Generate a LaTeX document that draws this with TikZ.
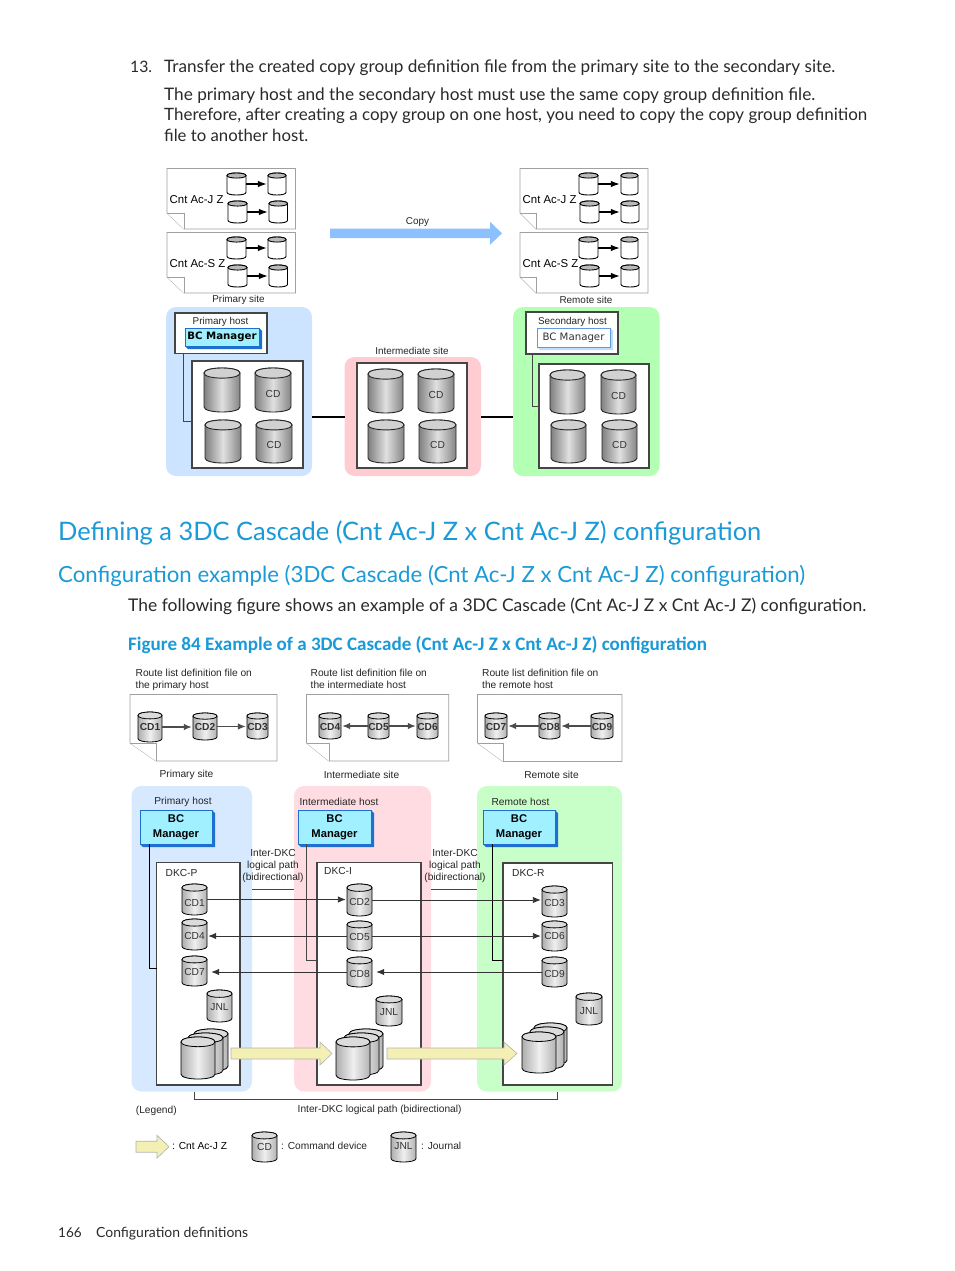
\documentclass[tikz,border=0pt]{standalone}
\usepackage{fontspec}
\setmainfont{Lato}
\newfontfamily\lab{Liberation Sans}
\newfontfamily\dvb{DejaVu Sans}
\newfontfamily\figf{Carlito}
\usetikzlibrary{arrows.meta,calc}
\definecolor{heading}{HTML}{1A9AD6}
\definecolor{bodytx}{HTML}{2A2A2A}
\definecolor{pblueA}{HTML}{CCE4FF}
\definecolor{ppinkA}{HTML}{FFCCD2}
\definecolor{pgreenA}{HTML}{B3FFB3}
\definecolor{pblueB}{HTML}{D6E9FF}
\definecolor{ppinkB}{HTML}{FFDCE2}
\definecolor{pgreenB}{HTML}{C8FFC8}
\definecolor{cyan}{HTML}{A0F0FF}
\definecolor{shadowblue}{HTML}{1E6FD0}
\definecolor{lightshadow}{HTML}{BFDDFF}
\definecolor{boxline}{HTML}{454545}
\definecolor{docline}{HTML}{A0A0A0}
\definecolor{yellowar}{HTML}{F4F0B4}
\definecolor{copyblue}{HTML}{8CC0FF}
\tikzset{
  mini body/.style={draw=black,line width=.9pt,fill=white},
  mini cap/.style={draw=black,line width=.9pt,fill=gray!55},
  big body/.style={draw=black!85,line width=.9pt,left color=black!50,right color=black!48,middle color=black!12},
  big cap/.style={draw=black!85,line width=.9pt,fill=black!18},
  soft body/.style={draw=black,line width=.8pt,left color=black!32,right color=black!30,middle color=black!6},
  soft cap/.style={draw=black,line width=.8pt,fill=black!14},
  panelbox/.style={rounded corners=10pt,draw=none},
  whitebox/.style={draw=boxline,line width=1.1pt,fill=white},
  docpage/.style={draw=docline,line width=.8pt,fill=white},
  lbl/.style={inner sep=0pt,align=center,text=black!85,yshift=-1pt,font=\lab\fontsize{10.2}{12.4}\selectfont},
  lblsm/.style={lbl,font=\lab\fontsize{9.9}{12}\selectfont},
  cnt/.style={lbl,text=black,font=\lab\fontsize{11.4}{13}\selectfont},
  link/.style={draw=black,line width=1pt},
  flow/.style={draw=black!80,line width=.9pt,-{Latex[length=8pt,width=6.5pt]},shorten >=1pt},
  miniflow/.style={draw=black,line width=1.1pt,-{Latex[length=9pt,width=6.5pt]},shorten >=1pt},
  routeflow/.style={draw=black!70,line width=1.2pt,-{Latex[length=8pt,width=6.5pt]},shorten >=1pt},
  yarrow/.style={draw=black!30,line width=.6pt,fill=yellowar},
  page/.style={inner sep=0pt,anchor=base west,text=bodytx},
  head/.style={inner sep=0pt,anchor=base west,text=heading},
}
% cylinder: style, name, x1, y1, x2, y2, label, label offset
\newcommand{\cyl}[8]{%
  \pgfmathsetmacro{\ry}{0.115*(#6-#4)}%
  \pgfmathsetmacro{\yt}{#4+\ry}%
  \pgfmathsetmacro{\yb}{#6-\ry}%
  \pgfmathsetmacro{\kp}{1.3333*\ry}%
  \pgfmathsetmacro{\tc}{\yt-\kp}%
  \pgfmathsetmacro{\td}{\yt+\kp}%
  \pgfmathsetmacro{\bd}{\yb+\kp}%
  \path[#1 body] (#3,\yt) -- (#3,\yb) .. controls (#3,\bd) and (#5,\bd) .. (#5,\yb) -- (#5,\yt) .. controls (#5,\tc) and (#3,\tc) .. cycle;
  \path[#1 cap] (#3,\yt) .. controls (#3,\td) and (#5,\td) .. (#5,\yt) .. controls (#5,\tc) and (#3,\tc) .. cycle;
  \pgfmathsetmacro{\cx}{(#3+#5)/2}%
  \pgfmathsetmacro{\cy}{(#4+#6)/2}%
  \pgfmathsetmacro{\cz}{\cy+#8-1}%
  \pgfmathsetmacro{\cw}{#5-#3}%
  \pgfmathsetmacro{\ch}{#6-#4}%
  \node[inner sep=0pt,minimum width=\cw pt,minimum height=\ch pt] (#2) at (\cx,\cy) {};
  \node[lbl,text=black!80] (#2t) at (\cx,\cz) {#7};
}
% rectangle node: style, name, x1, y1, x2, y2, label
\newcommand{\boxn}[7]{%
  \pgfmathsetmacro{\cx}{(#3+#5)/2}%
  \pgfmathsetmacro{\cy}{(#4+#6)/2}%
  \pgfmathsetmacro{\cw}{#5-#3}%
  \pgfmathsetmacro{\ch}{#6-#4}%
  \node[#1,inner sep=0pt,outer sep=0pt,minimum width=\cw pt,minimum height=\ch pt,align=center] (#2) at (\cx,\cy) {#7};
}
% dog-eared page: x1,y1,x2,y2,xf,yf
\newcommand{\dogear}[6]{%
  \path[docpage] (#1,#2) -- (#3,#2) -- (#3,#4) -- (#5,#4) -- (#1,#6) -- cycle;
  \path[docpage] (#1,#6) -- (#5,#6) -- (#5,#4);
}
% block arrow: style, x1, xhead, xtip, yc, half shaft, half head
\newcommand{\blockarrow}[7]{%
  \pgfmathsetmacro{\sa}{#5-#6}\pgfmathsetmacro{\sb}{#5+#6}%
  \pgfmathsetmacro{\ha}{#5-#7}\pgfmathsetmacro{\hb}{#5+#7}%
  \path[#1] (#2,\sa) -- (#3,\sa) -- (#3,\ha) -- (#4,#5) -- (#3,\hb) -- (#3,\sb) -- (#2,\sb) -- cycle;
}
% extruded BC Manager box
\newcommand{\bcbox}[8]{%
  \pgfmathsetmacro{\sxb}{#5+3}\pgfmathsetmacro{\syb}{#6+3}%
  \pgfmathsetmacro{\sxa}{#3+3}\pgfmathsetmacro{\sya}{#4+3}%
  \fill[#8] (#3,#6) -- (\sxa,\syb) -- (\sxb,\syb) -- (\sxb,\sya) -- (#5,#4) -- cycle;
  \boxn{#1}{#2}{#3}{#4}{#5}{#6}{#7}
}
\begin{document}
\begin{tikzpicture}[x=1pt,y=-1pt]
\useasboundingbox (0,0) rectangle (954,1271);
\fill[white] (0,0) rectangle (954,1271);

% ---- page text
\node[page] (n13) at (130,72.5) {\resizebox{22pt}{!}{\fontsize{19}{23}\selectfont 13.}};
\node[page] (t1) at (164,72.5) {\resizebox{671pt}{!}{\fontsize{19}{23}\selectfont Transfer the created copy group definition file from the primary site to the secondary site.}};
\node[page] (t2) at (164,100) {\resizebox{651pt}{!}{\fontsize{19}{23}\selectfont The primary host and the secondary host must use the same copy group definition file.}};
\node[page] (t3) at (164,120.5) {\resizebox{703pt}{!}{\fontsize{19}{23}\selectfont Therefore, after creating a copy group on one host, you need to copy the copy group definition}};
\node[page] (t4) at (164,141) {\resizebox{144pt}{!}{\fontsize{19}{23}\selectfont file to another host.}};

\node[head] (h1) at (58,540) {\resizebox{703pt}{!}{\fontsize{27}{32}\selectfont Defining a 3DC Cascade (Cnt Ac-J Z x Cnt Ac-J Z) configuration}};
\node[head] (h2) at (58,582) {\resizebox{747pt}{!}{\fontsize{24}{29}\selectfont Configuration example (3DC Cascade (Cnt Ac-J Z x Cnt Ac-J Z) configuration)}};
\node[page] (t5) at (128,611) {\resizebox{738pt}{!}{\fontsize{19}{23}\selectfont The following figure shows an example of a 3DC Cascade (Cnt Ac-J Z x Cnt Ac-J Z) configuration.}};
\node[head] (h3) at (128,650.5) {\resizebox{579pt}{!}{\figf\bfseries\fontsize{20}{24}\selectfont Figure 84 Example of a 3DC Cascade (Cnt Ac-J Z x Cnt Ac-J Z) configuration}};
\node[page] (foot1) at (58,1237.5) {\resizebox{23.5pt}{!}{\fontsize{16}{20}\selectfont 166}};
\node[page] (foot2) at (96,1237.5) {\resizebox{152pt}{!}{\fontsize{16}{20}\selectfont Configuration definitions}};

% ---- first diagram: definition files
\dogear{167}{168.5}{295.5}{229}{184}{213}
\dogear{167}{232.5}{295.5}{293}{184}{277}
\node[cnt,anchor=west] (la) at (169.5,198.5) {Cnt Ac-J Z};
\node[cnt,anchor=west] (lb) at (169.5,262.5) {Cnt Ac-S Z};
\cyl{mini}{a1}{227}{173}{246}{195}{}{0}
\cyl{mini}{a2}{268}{173}{286}{195}{}{0}
\cyl{mini}{a3}{228}{201}{247}{223}{}{0}
\cyl{mini}{a4}{269}{201}{287.5}{223}{}{0}
\cyl{mini}{a5}{227}{237}{246}{259}{}{0}
\cyl{mini}{a6}{268}{237}{286}{259}{}{0}
\cyl{mini}{a7}{228}{265}{247}{287}{}{0}
\cyl{mini}{a8}{269}{265}{287.5}{287}{}{0}
\draw[miniflow] (a1.east) -- (a2.west);
\draw[miniflow] (a3.east) -- (a4.west);
\draw[miniflow] (a5.east) -- (a6.west);
\draw[miniflow] (a7.east) -- (a8.west);

\dogear{520}{168.5}{648}{229}{536}{213}
\dogear{520}{232.5}{648}{293}{536}{277}
\node[cnt,anchor=west] (lc) at (522.5,198.5) {Cnt Ac-J Z};
\node[cnt,anchor=west] (ld) at (522.5,262.5) {Cnt Ac-S Z};
\cyl{mini}{b1}{579}{173}{598}{195}{}{0}
\cyl{mini}{b2}{621}{173}{638}{195}{}{0}
\cyl{mini}{b3}{580}{201}{599}{223}{}{0}
\cyl{mini}{b4}{621}{201}{639}{223}{}{0}
\cyl{mini}{b5}{579}{237}{598}{259}{}{0}
\cyl{mini}{b6}{621}{237}{638}{259}{}{0}
\cyl{mini}{b7}{580}{265}{599}{287}{}{0}
\cyl{mini}{b8}{621}{265}{639}{287}{}{0}
\draw[miniflow] (b1.east) -- (b2.west);
\draw[miniflow] (b3.east) -- (b4.west);
\draw[miniflow] (b5.east) -- (b6.west);
\draw[miniflow] (b7.east) -- (b8.west);

\node[lblsm] (lcopy) at (417.5,221.5) {Copy};
\blockarrow{fill=copyblue}{330}{490}{502}{233.3}{4.8}{11.5}

\node[lblsm] (ls1) at (238.5,299) {Primary site};
\node[lblsm] (ls2) at (586,299) {Remote site};
\node[lblsm] (ls3) at (412,349.5) {Intermediate site};

% ---- first diagram: sites
\boxn{panelbox,fill=pblueA}{pa}{166}{307}{312}{476}{}
\boxn{panelbox,fill=ppinkA}{pb}{344.5}{357}{481}{476}{}
\boxn{panelbox,fill=pgreenA}{pc}{513}{307}{659.5}{476}{}
\coordinate (lineY) at (0,417);
\draw[link,line width=1.6pt] (pa.east |- lineY) -- (pb.west |- lineY);
\draw[link,line width=1.6pt] (pb.east |- lineY) -- (pc.west |- lineY);

\boxn{whitebox}{ha}{175}{313}{267}{353.5}{}
\boxn{whitebox}{hc}{526}{312}{618}{354}{}
\boxn{whitebox}{sa}{192}{361}{303}{468}{}
\boxn{whitebox}{sb}{357}{363}{467}{468}{}
\boxn{whitebox}{sc}{539}{364}{649}{468}{}
\coordinate (ka) at (183,421);
\coordinate (kc) at (532,406);
\draw[link,draw=boxline] (ha.south -| ka) |- (sa.west |- ka);
\draw[link,draw=boxline] (hc.south -| kc) |- (sc.west |- kc);
\node[lblsm] (lhp) at (220.5,320.5) {Primary host};
\node[lblsm] (lhs) at (572.5,320.5) {Secondary host};
\bcbox{draw=shadowblue,line width=.8pt,fill=cyan,font=\dvb\bfseries\fontsize{10.2}{12}\selectfont}{bca}{185}{328}{259}{346}{BC Manager}{shadowblue}
\bcbox{draw=shadowblue!70,line width=.8pt,fill=white,text=black!80,font=\dvb\fontsize{10.2}{12}\selectfont}{bcc}{537}{328}{610}{347}{BC Manager}{lightshadow}

\cyl{big}{c1}{204}{368}{240}{412}{}{0}
\cyl{big}{c2}{255}{368}{291}{412}{CD}{3.5}
\cyl{big}{c3}{205}{420}{241}{463}{}{0}
\cyl{big}{c4}{256}{420}{292}{463}{CD}{3}
\cyl{big}{c5}{368}{369}{403}{413}{}{0}
\cyl{big}{c6}{418}{369}{454}{413}{CD}{3.5}
\cyl{big}{c7}{368}{420}{404}{463}{}{0}
\cyl{big}{c8}{419}{420}{456}{463}{CD}{3}
\cyl{big}{c9}{550}{370}{585}{414}{}{0}
\cyl{big}{c10}{601}{370}{636}{414}{CD}{3.5}
\cyl{big}{c11}{551}{420}{586}{463}{}{0}
\cyl{big}{c12}{602}{420}{637}{463}{CD}{3}

% ---- second diagram: route lists
\node[lbl,anchor=north west] (r1) at (135.5,667.5) {\parbox{130pt}{\raggedright Route list definition file on\\the primary host}};
\node[lbl,anchor=north west] (r2) at (310.5,667.5) {\parbox{130pt}{\raggedright Route list definition file on\\the intermediate host}};
\node[lbl,anchor=north west] (r3) at (482,667.5) {\parbox{130pt}{\raggedright Route list definition file on\\the remote host}};
\dogear{130}{694.5}{277}{761}{156}{743}
\dogear{306.5}{694.5}{448.7}{761}{329}{743}
\dogear{477.5}{694.5}{622}{761.5}{503}{743}
\newcommand{\cdb}[1]{\lab\bfseries\fontsize{10.2}{12}\selectfont #1}
\cyl{soft}{d1}{138}{712}{162}{742}{\cdb{CD1}}{0}
\cyl{soft}{d2}{193}{713}{217}{740}{\cdb{CD2}}{0}
\cyl{soft}{d3}{247}{713}{268}{739}{\cdb{CD3}}{1}
\cyl{soft}{d4}{319}{713}{341}{739}{\cdb{CD4}}{1}
\cyl{soft}{d5}{368}{713}{389}{739}{\cdb{CD5}}{1}
\cyl{soft}{d6}{417}{713}{438}{739}{\cdb{CD6}}{1}
\cyl{soft}{d7}{485}{713}{507}{739}{\cdb{CD7}}{1}
\cyl{soft}{d8}{539}{713}{560}{739}{\cdb{CD8}}{1}
\cyl{soft}{d9}{591}{713}{613}{739}{\cdb{CD9}}{1}
\draw[routeflow] (d1.east) -- (d1.east -| d2.west);
\draw[routeflow] (d2.east) -- (d2.east -| d3.west);
\draw[routeflow] (d5.west) -- (d5.west -| d4.east);
\draw[routeflow] (d5.east) -- (d5.east -| d6.west);
\draw[routeflow] (d8.west) -- (d8.west -| d7.east);
\draw[routeflow] (d9.west) -- (d9.west -| d8.east);
\node[lbl] (s1) at (186.5,774) {Primary site};
\node[lbl] (s2) at (361.5,774) {Intermediate site};
\node[lbl] (s3) at (551.5,774) {Remote site};

% ---- second diagram: sites
\boxn{panelbox,fill=pblueB}{qa}{131.5}{786}{252}{1091.5}{}
\boxn{panelbox,fill=ppinkB}{qb}{294}{786}{431}{1091.5}{}
\boxn{panelbox,fill=pgreenB}{qc}{477}{786}{622}{1091.5}{}
\boxn{whitebox}{ka1}{156.5}{862.5}{240}{1085}{}
\boxn{whitebox}{ka2}{317}{862.5}{421}{1085}{}
\boxn{whitebox}{ka3}{503}{863}{612.5}{1085}{}
\node[lbl,anchor=west] (k1) at (165.5,871.5) {DKC-P};
\node[lbl,anchor=west] (k2) at (324,869.5) {DKC-I};
\node[lbl,anchor=west] (k3) at (512,871.5) {DKC-R};
\node[lbl] (g1) at (183,800.5) {Primary host};
\node[lbl] (g2) at (339,800.5) {Intermediate host};
\node[lbl] (g3) at (520.5,800.5) {Remote host};

\bcbox{draw=shadowblue,line width=.8pt,fill=cyan,font=\lab\bfseries\fontsize{11.2}{15}\selectfont}{q1}{140}{810}{212}{844}{BC\\Manager}{shadowblue}
\bcbox{draw=shadowblue,line width=.8pt,fill=cyan,font=\lab\bfseries\fontsize{11.2}{15}\selectfont}{q2}{298}{810}{371}{844}{BC\\Manager}{shadowblue}
\bcbox{draw=shadowblue,line width=.8pt,fill=cyan,font=\lab\bfseries\fontsize{11.2}{15}\selectfont}{q3}{483}{810}{555}{844}{BC\\Manager}{shadowblue}
\coordinate (ma) at (149.5,968);
\coordinate (mb) at (306,960);
\coordinate (mc) at (492,960);
\draw[link] (q1.south -| ma) |- (ka1.west |- ma);
\draw[link,draw=boxline] (q2.south -| mb) |- (ka2.west |- mb);
\draw[link] (q3.south -| mc) |- (ka3.west |- mc);

\node[lbl] (i1) at (273,865) {Inter-DKC\\logical path\\(bidirectional)};
\node[lbl] (i2) at (455,865) {Inter-DKC\\logical path\\(bidirectional)};
\coordinate (iy) at (0,889.5);
\draw[draw=boxline,line width=.8pt] (qa.east |- iy) -- (qb.west |- iy);
\draw[draw=boxline,line width=.8pt] (qb.east |- iy) -- (qc.west |- iy);

\cyl{soft}{e1}{182}{884}{207}{915}{CD1}{3.5}
\cyl{soft}{e2}{347}{884}{372}{916}{CD2}{1.7}
\cyl{soft}{e3}{542}{886}{567}{917}{CD3}{1.8}
\cyl{soft}{e4}{182}{919}{207}{950}{CD4}{1}
\cyl{soft}{e5}{347}{921}{372}{951}{CD5}{1.3}
\cyl{soft}{e6}{542}{921}{567}{951}{CD6}{0}
\cyl{soft}{e7}{182}{956}{207}{986}{CD7}{1.3}
\cyl{soft}{e8}{347}{957}{372}{987}{CD8}{2.3}
\cyl{soft}{e9}{542}{957}{567}{987}{CD9}{2.3}
\cyl{soft}{j1}{207}{990}{232}{1022}{JNL}{1.3}
\cyl{soft}{j2}{376}{996}{402}{1026}{JNL}{1.3}
\cyl{soft}{j3}{576}{993}{602}{1025}{JNL}{1.7}
\draw[flow] (e1.east) -- (e1.east -| e2.west);
\draw[flow] (e2.east) -- (e2.east -| e3.west);
\draw[flow] (e5.west) -- (e5.west -| e4.east);
\draw[flow] (e5.east) -- (e5.east -| e6.west);
\draw[flow,shorten >=4pt] (e8.west) -- (e8.west -| e7.east);
\draw[flow,shorten >=4pt] (e9.west) -- (e9.west -| e8.east);

\cyl{soft}{v3}{194}{1029}{228}{1071}{}{0}
\cyl{soft}{v2}{188}{1033}{223}{1075}{}{0}
\cyl{soft}{v1}{181}{1037}{215}{1079}{}{0}
\cyl{soft}{v6}{349}{1029}{383}{1071}{}{0}
\cyl{soft}{v5}{344}{1033}{379}{1075}{}{0}
\cyl{soft}{v4}{336}{1037}{370}{1080}{}{0}
\cyl{soft}{v9}{534}{1023}{567}{1065}{}{0}
\cyl{soft}{v8}{530}{1027}{564}{1069}{}{0}
\cyl{soft}{v7}{522}{1032}{556}{1073}{}{0}

\blockarrow{yarrow}{231}{320}{332}{1053.5}{5.5}{11.5}
\blockarrow{yarrow}{387}{504}{517}{1053.5}{5.5}{11.5}

% bracket
\coordinate (bl) at (194,1099);
\coordinate (br) at (557.7,1099);
\draw[draw=boxline,line width=.9pt] (qa.south -| bl) -- (bl) -- (br) -- (qc.south -| br);
\node[lbl,anchor=west] (leg) at (135.7,1110) {(Legend)};
\node[lbl,anchor=west] (bk) at (297.5,1109) {Inter-DKC logical path (bidirectional)};

% legend
\blockarrow{yarrow}{136}{157}{169}{1146.7}{5.5}{11.5}
\node[lbl,text=black,anchor=west] (l1) at (172,1145) {: Cnt Ac-J Z};
\cyl{soft}{l2}{252}{1132}{277}{1162}{CD}{-0.5}
\node[lbl,anchor=west] (l3) at (281,1145) {: Command device};
\cyl{soft}{l4}{391}{1132}{416}{1162}{JNL}{-0.5}
\node[lbl,anchor=west] (l5) at (421,1145) {: Journal};
\end{tikzpicture}
\end{document}
